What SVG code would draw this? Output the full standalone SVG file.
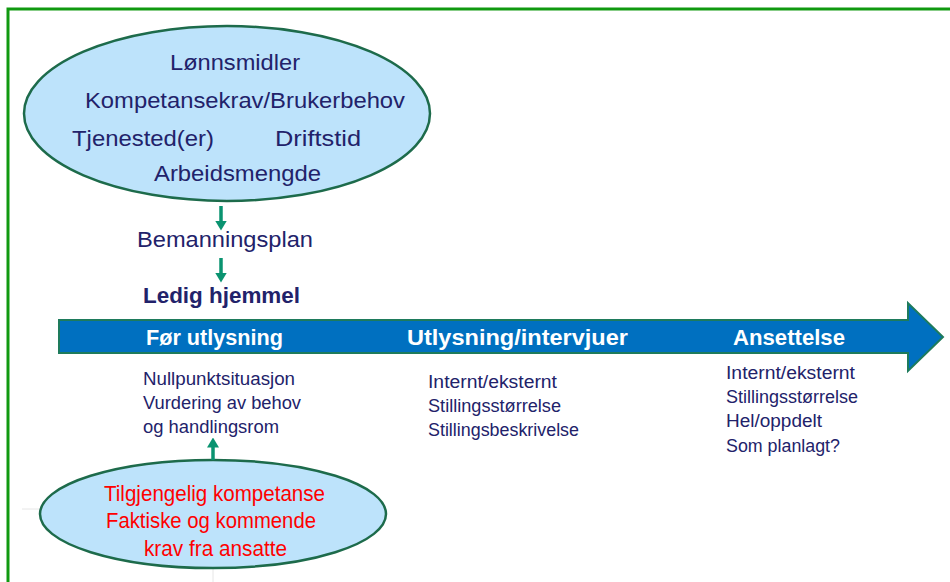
<svg xmlns="http://www.w3.org/2000/svg" width="950" height="582" viewBox="0 0 950 582">
<defs>
<style>
.t{font-family:"Liberation Sans",Arial,sans-serif;fill:#22226a;}
.big{font-size:22px;}
.sm{font-size:17.5px;}
.bold{font-weight:bold;}
.lbl{font-family:"Liberation Sans",Arial,sans-serif;font-weight:bold;font-size:21.5px;fill:#ffffff;text-anchor:middle;}
.red{font-family:"Liberation Sans",Arial,sans-serif;font-size:22px;fill:#ff0000;}
.ell{fill:#bde3fb;stroke:#1d6b4b;stroke-width:2.5;}
.con{stroke:#0a9370;stroke-width:3.5;fill:none;marker-end:url(#ah);}
.faint{stroke:#e6e6e6;stroke-width:1;fill:none;}
</style>
<marker id="ah" viewBox="0 0 10 12" refX="0.5" refY="6" markerUnits="userSpaceOnUse" markerWidth="10" markerHeight="12" orient="auto">
<path d="M0,0 L10,6 L0,12 z" fill="#0a9370"/>
</marker>
</defs>
<rect x="0" y="0" width="950" height="582" fill="#ffffff"/>
<rect x="8" y="9" width="980" height="600" fill="none" stroke="#109910" stroke-width="3"/>
<line class="faint" x1="22" y1="509" x2="45" y2="509"/>
<line class="faint" x1="213" y1="566" x2="213" y2="582"/>

<g id="top-ellipse">
<ellipse class="ell" cx="227" cy="113.5" rx="203" ry="87.5"/>
<text class="t big" x="170" y="70" textLength="130" lengthAdjust="spacingAndGlyphs">Lønnsmidler</text>
<text class="t big" x="85" y="108" textLength="320" lengthAdjust="spacingAndGlyphs">Kompetansekrav/Brukerbehov</text>
<text class="t big" x="72" y="146" textLength="142" lengthAdjust="spacingAndGlyphs">Tjenested(er)</text>
<text class="t big" x="275" y="146" textLength="86" lengthAdjust="spacingAndGlyphs">Driftstid</text>
<text class="t big" x="154" y="181" textLength="167" lengthAdjust="spacingAndGlyphs">Arbeidsmengde</text>
</g>

<g id="bemanningsplan">
<text class="t big" x="137" y="247" textLength="176" lengthAdjust="spacingAndGlyphs">Bemanningsplan</text>
</g>

<g id="ledig-hjemmel">
<text class="t big bold" x="143" y="303" textLength="157" lengthAdjust="spacingAndGlyphs">Ledig hjemmel</text>
</g>

<g id="timeline">
<polygon points="59,320 908,320 908,303 943,337 908,371 908,353 59,353" fill="#0070c0" stroke="#1e7b5c" stroke-width="2"/>
<text class="lbl" x="214.5" y="345" textLength="137" lengthAdjust="spacingAndGlyphs">Før utlysning</text>
<text class="lbl" x="517.5" y="345" textLength="221" lengthAdjust="spacingAndGlyphs">Utlysning/intervjuer</text>
<text class="lbl" x="789" y="345" textLength="112" lengthAdjust="spacingAndGlyphs">Ansettelse</text>
</g>

<g id="for-utlysning-items">
<text class="t sm" x="143" y="385" textLength="152" lengthAdjust="spacingAndGlyphs">Nullpunktsituasjon</text>
<text class="t sm" x="143" y="409" textLength="158" lengthAdjust="spacingAndGlyphs">Vurdering av behov</text>
<text class="t sm" x="143" y="433" textLength="136" lengthAdjust="spacingAndGlyphs">og handlingsrom</text>
</g>

<g id="utlysning-items">
<text class="t sm" x="428" y="388" textLength="129" lengthAdjust="spacingAndGlyphs">Internt/eksternt</text>
<text class="t sm" x="428" y="412" textLength="133" lengthAdjust="spacingAndGlyphs">Stillingsstørrelse</text>
<text class="t sm" x="428" y="436" textLength="151" lengthAdjust="spacingAndGlyphs">Stillingsbeskrivelse</text>
</g>

<g id="ansettelse-items">
<text class="t sm" x="726" y="379" textLength="129" lengthAdjust="spacingAndGlyphs">Internt/eksternt</text>
<text class="t sm" x="726" y="403" textLength="132" lengthAdjust="spacingAndGlyphs">Stillingsstørrelse</text>
<text class="t sm" x="726" y="427" textLength="96" lengthAdjust="spacingAndGlyphs">Hel/oppdelt</text>
<text class="t sm" x="726" y="452" textLength="114" lengthAdjust="spacingAndGlyphs">Som planlagt?</text>
</g>

<g id="bottom-ellipse">
<ellipse class="ell" cx="213" cy="514" rx="173" ry="54"/>
<text class="red" x="104" y="501" textLength="221" lengthAdjust="spacingAndGlyphs">Tilgjengelig kompetanse</text>
<text class="red" x="106" y="528" textLength="210" lengthAdjust="spacingAndGlyphs">Faktiske og kommende</text>
<text class="red" x="144" y="556" textLength="143" lengthAdjust="spacingAndGlyphs">krav fra ansatte</text>
</g>

<g id="connectors">
<line class="con" x1="221" y1="206" x2="221" y2="221"/>
<line class="con" x1="221" y1="258" x2="221" y2="273"/>
<line class="con" x1="213" y1="460" x2="213" y2="447"/>
</g>
</svg>
